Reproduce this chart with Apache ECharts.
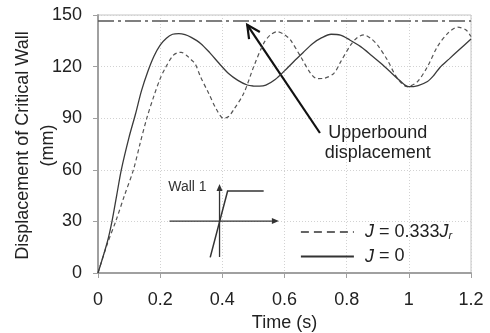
<!DOCTYPE html>
<html>
<head>
<meta charset="utf-8">
<script src="https://cdn.jsdelivr.net/npm/echarts@6/dist/echarts.min.js"></script>
<style>
  html, body { margin: 0; padding: 0; background: #fff; }
  #chart { width: 490px; height: 333px; }
</style>
</head>
<body>
<div id="chart"></div>
<script>
// Wall displacement histories (time in s, displacement in mm)
const timeJ0 = [0, 0.03, 0.045, 0.06, 0.075, 0.1, 0.12, 0.14, 0.16, 0.18, 0.2, 0.22, 0.24, 0.26, 0.28, 0.3, 0.33, 0.36, 0.39, 0.42, 0.45, 0.48, 0.5, 0.52, 0.54, 0.57, 0.6, 0.63, 0.66, 0.69, 0.72, 0.75, 0.78, 0.81, 0.845, 0.88, 0.91, 0.94, 0.97, 1.0, 1.03, 1.06, 1.08, 1.1, 1.13, 1.16, 1.2];
const dispJ0 = [0, 18, 30, 45, 60, 79, 92, 106, 117, 126, 132.5, 136.5, 138.8, 139.2, 138.6, 137, 133.5, 128, 121.8, 116, 112, 109.3, 108.7, 108.6, 109.2, 112.5, 117.5, 123, 128.2, 133.3, 136.8, 138.8, 138.3, 135.5, 131.6, 126.5, 121.9, 117, 112, 108.3, 109, 111.3, 114.8, 119.5, 124.5, 129.5, 136];

const timeJr = [0, 0.03, 0.057, 0.085, 0.114, 0.135, 0.157, 0.18, 0.2, 0.216, 0.24, 0.255, 0.268, 0.285, 0.3, 0.313, 0.33, 0.356, 0.38, 0.404, 0.42, 0.436, 0.469, 0.501, 0.533, 0.555, 0.576, 0.6, 0.619, 0.652, 0.684, 0.705, 0.727, 0.759, 0.781, 0.813, 0.835, 0.856, 0.877, 0.899, 0.931, 0.963, 0.995, 1.028, 1.06, 1.092, 1.125, 1.157, 1.184, 1.2];
const dispJr = [0, 17, 30, 45, 60, 75, 90, 103, 113, 119, 126.2, 128, 128.3, 126.5, 124, 121.5, 114, 104.5, 95.5, 89.9, 91, 94.8, 104.5, 120, 133.5, 138.5, 140.3, 138.5, 135.5, 125.8, 116.1, 113, 113.2, 116.1, 122.9, 132.6, 137, 138.4, 136.5, 132.6, 123.8, 113.2, 108.3, 111.3, 120, 131.6, 139.3, 142.9, 141.3, 137.5];

const upperBound = 146.5;
const xTicks = [0, 0.2, 0.4, 0.6, 0.8, 1, 1.2];
const yTicks = [0, 30, 60, 90, 120, 150];
const yTitle = 'Displacement of Critical Wall\n(mm)';

const FONT = '"Liberation Sans", Arial, sans-serif';
const INK = '#222';

function pairs(xs, ys) { return xs.map((x, i) => [x, ys[i]]); }

const chart = echarts.init(document.getElementById('chart'), null, { renderer: 'canvas' });

chart.setOption({
  animation: false,
  backgroundColor: '#fff',
  grid: { left: 98, right: 19, top: 15, bottom: 60, show: true, borderColor: '#c4c4c4', borderWidth: 1,
    containLabel: false, outerBoundsMode: 'none' },
  xAxis: {
    type: 'value', min: xTicks[0], max: xTicks[xTicks.length - 1], interval: 0.2,
    name: 'Time (s)', nameLocation: 'middle', nameGap: 41,
    nameTextStyle: { fontFamily: FONT, fontSize: 18, color: INK },
    axisLine: { show: true, onZero: false, lineStyle: { color: '#a0a0a0', width: 2 } },
    axisTick: { show: true, length: 5, lineStyle: { color: '#a0a0a0' } },
    axisLabel: { margin: 18, fontFamily: FONT, fontSize: 18, color: INK,
      formatter: v => String(Math.round(v * 10) / 10) },
    splitLine: { show: true, lineStyle: { color: '#d2d2d2', type: [1, 2], width: 1 } }
  },
  yAxis: {
    type: 'value', min: yTicks[0], max: yTicks[yTicks.length - 1], interval: 30,
    axisLine: { show: true, lineStyle: { color: '#a0a0a0', width: 2 } },
    axisTick: { show: true, length: 5, lineStyle: { color: '#a0a0a0' } },
    axisLabel: { margin: 16, fontFamily: FONT, fontSize: 18, color: INK },
    splitLine: { show: true, lineStyle: { color: '#d2d2d2', type: [1, 2], width: 1 } }
  },
  legend: {
    orient: 'vertical', left: 295, top: 218, itemWidth: 53, itemHeight: 14, itemGap: 6,
    selectedMode: false,
    itemStyle: { opacity: 0 },
    data: [
      { name: 'J = 0.333Jr', itemStyle: { opacity: 0 }, lineStyle: { type: [8, 5], width: 1.5, color: '#333' } },
      { name: 'J = 0', itemStyle: { opacity: 0 }, lineStyle: { width: 1.8, color: '#333' } }
    ],
    formatter: name => name === 'J = 0' ? '{i|J} = 0' : '{i|J} = 0.333{i|J}{s|r}',
    textStyle: {
      fontFamily: FONT, fontSize: 18, color: INK, padding: [0, 0, 0, 6],
      rich: {
        i: { fontFamily: FONT, fontSize: 18, fontStyle: 'italic', color: INK },
        s: { fontFamily: FONT, fontSize: 11, fontStyle: 'italic', color: INK, padding: [8, 0, 0, 0] }
      }
    }
  },
  series: [
    {
      name: 'Upper bound', type: 'line', symbol: 'none', silent: true,
      data: [[xTicks[0], upperBound], [xTicks[xTicks.length - 1], upperBound]],
      itemStyle: { color: '#555' },
      lineStyle: { color: '#555', width: 1.5, type: [16, 4, 3, 4] }
    },
    {
      name: 'J = 0.333Jr', type: 'line', symbol: 'none', smooth: 0.3,
      data: pairs(timeJr, dispJr),
      itemStyle: { color: '#555' },
      lineStyle: { color: '#555', width: 1.2, type: [4, 3] }
    },
    {
      name: 'J = 0', type: 'line', symbol: 'none', smooth: 0.3,
      data: pairs(timeJ0, dispJ0),
      itemStyle: { color: '#3a3a3a' },
      lineStyle: { color: '#3a3a3a', width: 1.3 }
    }
  ]
});

// Annotation geometry, in axis units
const arrowFrom = [0.714, 81.4];
const arrowTo = [0.48, 144.3];
const labelAt = [0.9, 75.6];
const insetTitleAt = [0.226, 50];
const insetVertical = [[0.391, 9.3], [0.391, 51.7]];
const insetHorizontal = [[0.23, 30.2], [0.582, 30.2]];
const insetCurve = [[0.361, 9.1], [0.417, 47.7], [0.533, 47.7]];

const px = p => chart.convertToPixel({ gridIndex: 0 }, p);

function arrowShapes(a, b, color, width, headLen, headHalf, open) {
  const [x1, y1] = px(a), [x2, y2] = px(b);
  const dx = x2 - x1, dy = y2 - y1, L = Math.hypot(dx, dy);
  const ux = dx / L, uy = dy / L;
  const bx = x2 - ux * headLen, by = y2 - uy * headLen;
  const p1 = [bx - uy * headHalf, by + ux * headHalf];
  const p2 = [bx + uy * headHalf, by - ux * headHalf];
  const out = [{
    type: 'line', shape: { x1, y1, x2: open ? x2 : bx, y2: open ? y2 : by },
    style: { stroke: color, lineWidth: width }
  }];
  if (open) {
    out.push({ type: 'polyline', shape: { points: [p1, [x2, y2], p2] },
      style: { stroke: color, lineWidth: width, fill: null } });
  } else {
    out.push({ type: 'polygon', shape: { points: [p1, [x2, y2], p2] },
      style: { fill: color, stroke: null } });
  }
  return out;
}

const g = [];
// vertical axis title, two lines, centred on the plot height
const yMid = (px([0, yTicks[0]])[1] + px([0, yTicks[yTicks.length - 1]])[1]) / 2;
g.push({ type: 'text', x: 35.5, y: yMid + 1.5, rotation: Math.PI / 2,
  style: { text: yTitle, fontFamily: FONT, fontSize: 18, fill: INK,
    align: 'center', verticalAlign: 'middle', lineHeight: 25.5 } });

g.push(...arrowShapes(arrowFrom, arrowTo, '#111', 2.2, 13, 6.5, true));
const lp = px(labelAt);
g.push({ type: 'text', x: lp[0], y: lp[1],
  style: { text: 'Upperbound\ndisplacement', fontFamily: FONT, fontSize: 18, fill: INK,
    align: 'center', verticalAlign: 'middle', lineHeight: 20 } });

const tp = px(insetTitleAt);
g.push({ type: 'text', x: tp[0], y: tp[1],
  style: { text: 'Wall 1', fontFamily: FONT, fontSize: 14, fill: '#333',
    align: 'left', verticalAlign: 'middle' } });
g.push(...arrowShapes(insetVertical[0], insetVertical[1], '#333', 1.3, 7, 3, false));
g.push(...arrowShapes(insetHorizontal[0], insetHorizontal[1], '#333', 1.3, 7, 3, false));
g.push({ type: 'polyline', shape: { points: insetCurve.map(px) },
  style: { stroke: '#333', lineWidth: 1.5, fill: null } });

chart.setOption({ graphic: g });
</script>
</body>
</html>
